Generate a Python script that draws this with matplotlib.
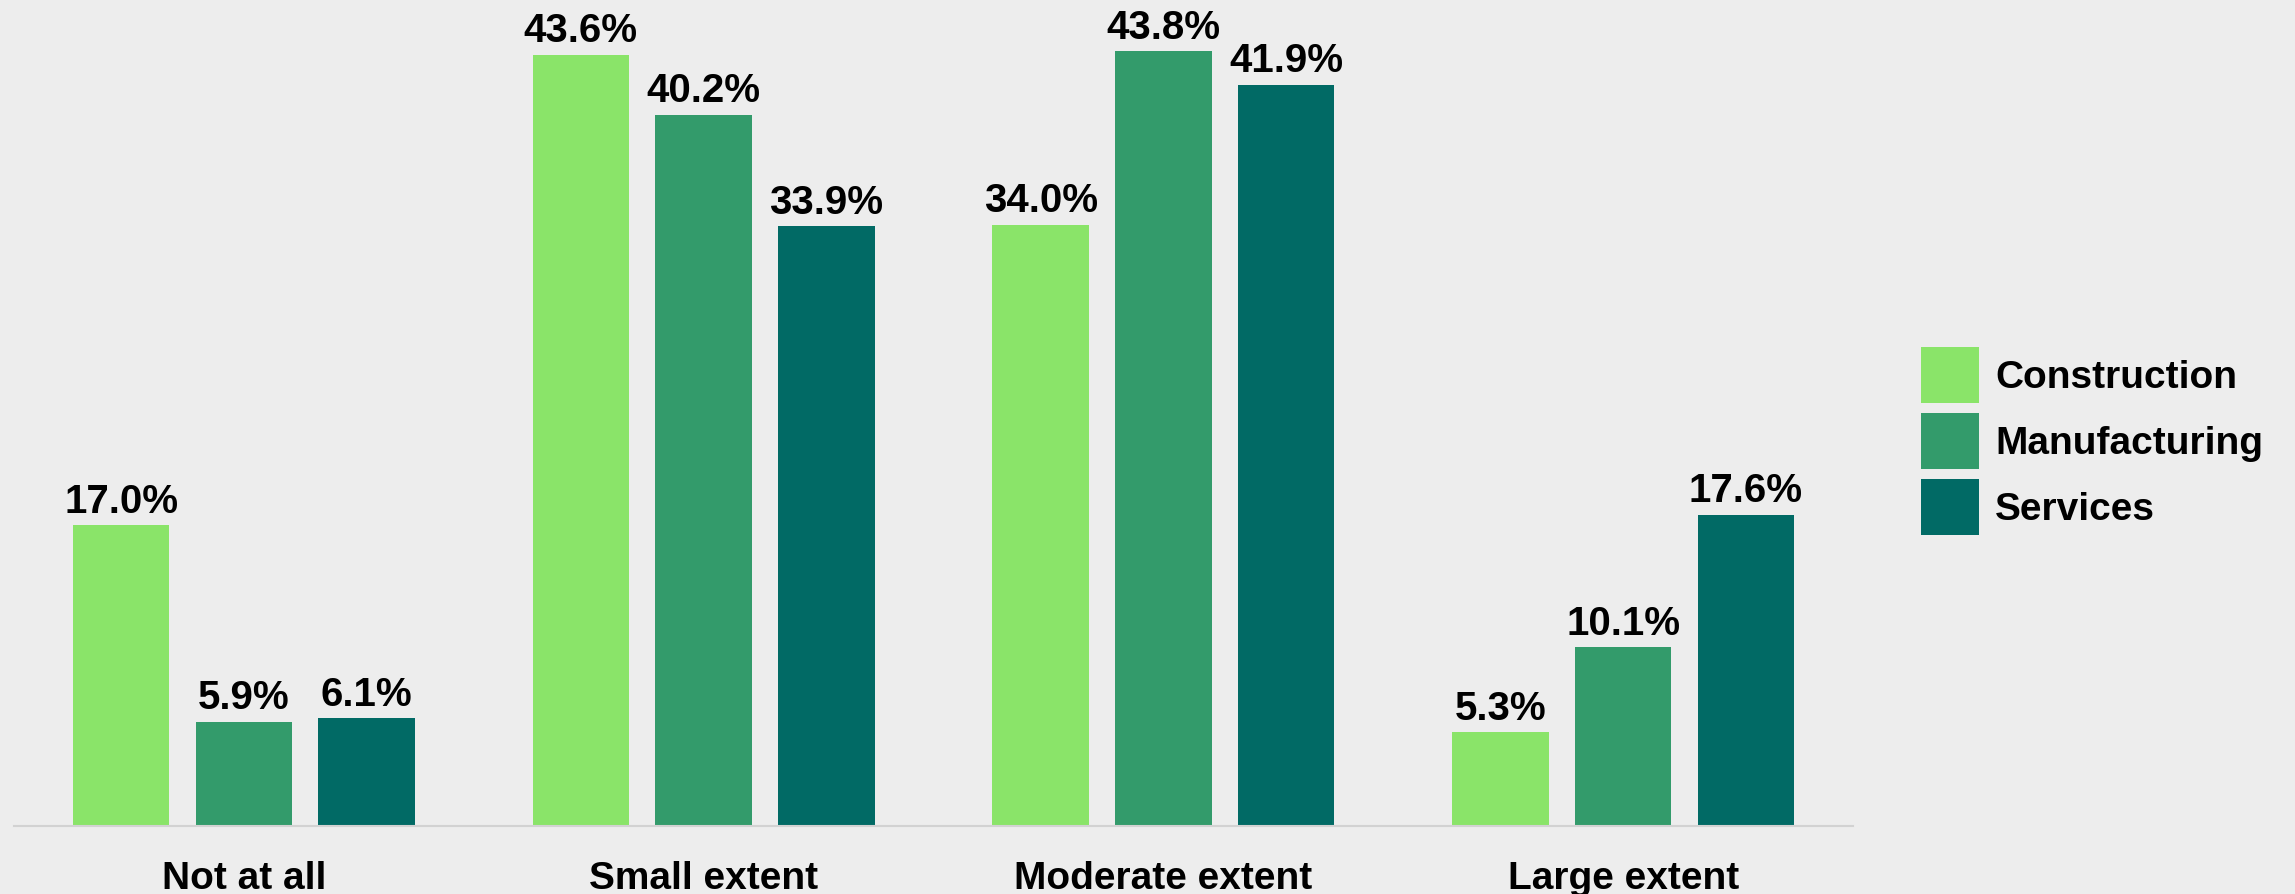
import numpy as np
import matplotlib
matplotlib.use("Agg")
from matplotlib import pyplot as plt
from matplotlib.patches import Patch

categories = ["Not at all", "Small extent", "Moderate extent", "Large extent"]
series_names = ["Construction", "Manufacturing", "Services"]
construction = [17.0, 43.6, 34.0, 5.3]
manufacturing = [5.9, 40.2, 43.8, 10.1]
services = [6.1, 33.9, 41.9, 17.6]
colors = ["#8AE469", "#339B6B", "#016A65"]


def main():
    plt.rcParams["font.family"] = ["Liberation Sans", "DejaVu Sans"]
    plt.rcParams["font.weight"] = "bold"

    fig = plt.figure(figsize=(22.95, 8.94), dpi=100)
    fig.patch.set_facecolor("#ededed")
    ax = fig.add_axes([14 / 2295, 68 / 894, (1853 - 14) / 2295, 826 / 894])
    ax.set_facecolor("none")

    x = np.arange(len(categories))
    width = 0.21
    step = 0.267
    for i, (vals, color) in enumerate(zip([construction, manufacturing, services], colors)):
        pos = x + (i - 1) * step
        bars = ax.bar(pos, vals, width=width, color=color, linewidth=0)
        for b, v in zip(bars, vals):
            ax.annotate("{:.1f}%".format(v), (b.get_x() + b.get_width() / 2, v),
                        xytext=(0, 9), textcoords="offset points",
                        ha="center", va="baseline", fontsize=29,
                        fontweight="bold", color="black")

    ax.set_xlim(-0.5, 3.5)
    ax.set_ylim(0, 46.7)
    ax.set_xticks(x)
    ax.set_xticklabels(categories, fontsize=28, fontweight="bold")
    ax.tick_params(axis="x", length=0, pad=25.5)
    ax.set_yticks([])
    for s in ["top", "right", "left"]:
        ax.spines[s].set_visible(False)
    ax.spines["bottom"].set_color("#d2d2d2")
    ax.spines["bottom"].set_linewidth(1.5)

    # square swatches, a little taller than the text
    handles = [Patch(facecolor=c, edgecolor="none") for c in colors]
    fig.legend(handles, series_names, loc="upper left",
               bbox_to_anchor=(1921 / 2295, 1 - 347 / 894),
               frameon=False, borderpad=0, borderaxespad=0,
               handlelength=1.49, handleheight=1.84,
               labelspacing=0.26, handletextpad=0.41,
               prop={"weight": "bold", "size": 28})

    fig.savefig("out.png", dpi=100, facecolor=fig.get_facecolor())


if __name__ == "__main__":
    main()
